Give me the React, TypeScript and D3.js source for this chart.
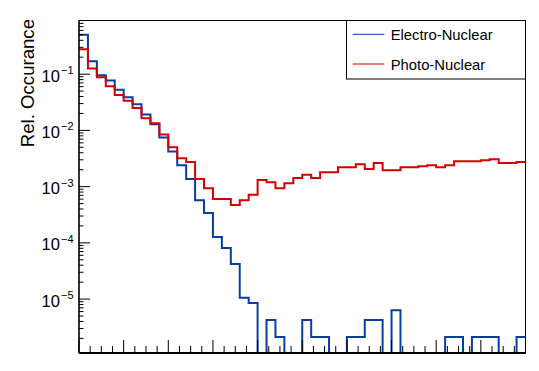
import React, { useRef, useEffect } from "react";
import * as d3 from "d3";

// relative occurance per bin (50 bins); 0 = empty bin
const electroNuclear = [
  0.5, 0.17, 0.096, 0.077, 0.053, 0.039, 0.0293, 0.0191, 0.0129, 0.00746,
  0.00421, 0.00241, 0.00136, 5.75e-4, 3.38e-4, 1.27e-4, 8.07e-5, 4.19e-5, 1.06e-5, 8.48e-6,
  0, 4.24e-6, 2.12e-6, 0, 0, 4.24e-6, 2.12e-6, 2.12e-6, 0, 0,
  2.12e-6, 2.12e-6, 4.24e-6, 4.24e-6, 0, 6.36e-6, 0, 0, 0, 0,
  0, 2.12e-6, 2.12e-6, 0, 2.12e-6, 2.12e-6, 2.12e-6, 0, 0, 2.12e-6,
];

const photoNuclear = [
  0.278, 0.126, 0.0885, 0.0612, 0.0424, 0.0335, 0.0249, 0.0165, 0.01345, 0.00843,
  0.005, 0.00321, 0.00273, 0.00136, 9.4e-4, 6.0e-4, 6.0e-4, 4.69e-4, 5.75e-4, 7.15e-4,
  1.31e-3, 1.2e-3, 9.4e-4, 1.15e-3, 1.42e-3, 1.62e-3, 1.42e-3, 1.81e-3, 1.81e-3, 2.22e-3,
  2.22e-3, 2.51e-3, 2.05e-3, 2.62e-3, 1.96e-3, 1.96e-3, 2.22e-3, 2.22e-3, 2.31e-3, 2.41e-3,
  2.22e-3, 2.41e-3, 2.84e-3, 2.84e-3, 2.84e-3, 2.96e-3, 3.08e-3, 2.62e-3, 2.62e-3, 2.73e-3,
];

const seriesNames = ["Electro-Nuclear", "Photo-Nuclear"];
const seriesColors = ["#0b3d9c", "#d40000"];
const decades = [-1, -2, -3, -4, -5];
const yTitle = "Rel. Occurance";

const App = () => {
  const ref = useRef<SVGSVGElement>(null);

  useEffect(() => {
    const width = 539;
    const height = 371;
    const marginTop = 20.5;
    const marginRight = 13.5;
    const marginBottom = 18;
    const marginLeft = 79;
    const font = "'Liberation Sans', Arial, sans-serif";
    const nBins = electroNuclear.length;

    const x = d3.scaleLinear()
      .domain([0, nBins])
      .range([marginLeft, width - marginRight]);

    const y = d3.scaleLog()
      .domain([1.1e-6, 0.9])
      .range([height - marginBottom, marginTop]);

    const svg = d3.select(ref.current);
    svg.selectAll("*").remove();

    svg.append("rect")
      .attr("width", width)
      .attr("height", height)
      .attr("fill", "#fff");

    // frame
    svg.append("rect")
      .attr("x", x(0))
      .attr("y", y(0.9))
      .attr("width", x(nBins) - x(0))
      .attr("height", y(1.1e-6) - y(0.9))
      .attr("fill", "none")
      .attr("stroke", "#000")
      .attr("stroke-width", 1);

    // histograms
    const line = d3.line<[number, number]>()
      .x((d) => x(d[0]))
      .y((d) => y(Math.max(d[1], 1.1e-6)))
      .curve(d3.curveStepAfter);

    [electroNuclear, photoNuclear].forEach((vals, k) => {
      const pts: [number, number][] = vals.map((v, i) => [i, v]);
      pts.push([nBins, vals[nBins - 1]]);
      svg.append("path")
        .attr("fill", "none")
        .attr("stroke", seriesColors[k])
        .attr("stroke-width", 2)
        .attr("d", line(pts));
    });

    // bottom axis
    const yb = height - marginBottom;
    svg.append("line")
      .attr("x1", x(0)).attr("x2", x(nBins))
      .attr("y1", yb).attr("y2", yb)
      .attr("stroke", "#000")
      .attr("stroke-width", 2);

    const xTicks = d3.range(0, nBins + 0.01, 1.25);
    svg.selectAll()
      .data(xTicks)
      .enter()
      .append("line")
        .attr("x1", (d) => x(d))
        .attr("x2", (d) => x(d))
        .attr("y1", yb)
        .attr("y2", (d) => yb - (d % 5 === 0 ? 13 : 7))
        .attr("stroke", "#000")
        .attr("stroke-width", 1);

    // left axis
    svg.append("line")
      .attr("x1", marginLeft).attr("x2", marginLeft)
      .attr("y1", y(0.9)).attr("y2", yb)
      .attr("stroke", "#000")
      .attr("stroke-width", 1.2);

    const minor: number[] = [];
    for (let e = -6; e <= -1; e++) {
      for (let m = 2; m <= 9; m++) {
        const v = m * Math.pow(10, e);
        if (v >= 1.1e-6 && v <= 0.9) minor.push(v);
      }
    }
    svg.selectAll()
      .data(minor)
      .enter()
      .append("line")
        .attr("x1", marginLeft)
        .attr("x2", marginLeft + 4.5)
        .attr("y1", (d) => y(d))
        .attr("y2", (d) => y(d))
        .attr("stroke", "#000");

    const major = svg.selectAll()
      .data(decades)
      .enter()
      .append("g")
        .attr("transform", (d) => `translate(0,${y(Math.pow(10, d))})`);

    major.append("line")
      .attr("x1", marginLeft)
      .attr("x2", marginLeft + 11)
      .attr("stroke", "#000");

    const lbl = major.append("text")
      .attr("x", 73.5)
      .attr("y", 7.5)
      .attr("text-anchor", "end")
      .attr("font-family", font)
      .attr("font-size", 16.5)
      .attr("fill", "#000");
    lbl.append("tspan").text("10");
    lbl.append("tspan")
      .attr("dy", -7.5)
      .attr("dx", 1)
      .attr("font-size", 11)
      .text((d) => "\u2212" + Math.abs(d));

    // y title
    svg.append("text")
      .attr("transform", `translate(33.5,${marginTop - 1.5}) rotate(-90)`)
      .attr("text-anchor", "end")
      .attr("font-family", font)
      .attr("font-size", 18.6)
      .attr("fill", "#000")
      .text(yTitle);

    // legend
    const lg = svg.append("g");
    lg.append("rect")
      .attr("x", 346.5)
      .attr("y", marginTop)
      .attr("width", x(nBins) - 346.5)
      .attr("height", 58.5)
      .attr("fill", "#fff")
      .attr("stroke", "#000");

    seriesNames.forEach((name, k) => {
      const cy = 34.3 + k * 29.7;
      lg.append("line")
        .attr("x1", 352.7).attr("x2", 384.3)
        .attr("y1", cy).attr("y2", cy)
        .attr("stroke", seriesColors[k])
        .attr("stroke-width", 1);
      lg.append("text")
        .attr("x", 390.7)
        .attr("y", cy + 5.6)
        .attr("font-family", font)
        .attr("font-size", 14.8)
        .attr("fill", "#000")
        .text(name);
    });
  }, []);

  return (
    <svg
      ref={ref}
      width={539}
      height={371}
      style={{ position: "absolute", left: 0, top: 0 }}
    />
  );
};

export default App;
